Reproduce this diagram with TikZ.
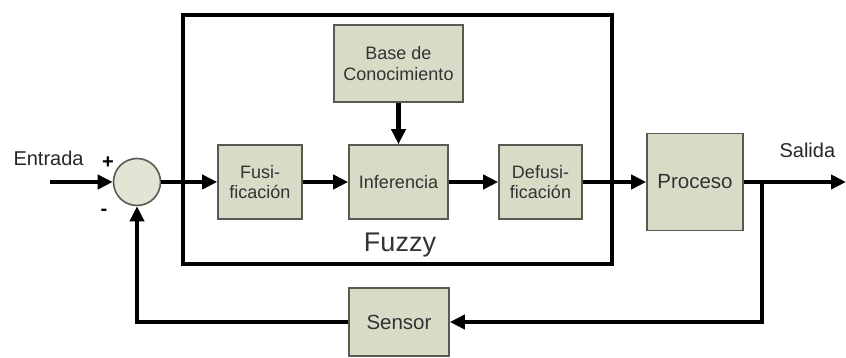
\documentclass[tikz,border=0pt]{standalone}
\usepackage{fontspec}
\setmainfont{Liberation Sans}
\usetikzlibrary{arrows.meta}
\definecolor{blockfill}{HTML}{D9DBC6}
\definecolor{blockline}{HTML}{5A5A55}
\definecolor{sumfill}{HTML}{E4E4D4}
\begin{document}
\begin{tikzpicture}[x=1pt,y=-1pt,
  block/.style={draw=blockline,line width=1.6pt,fill=blockfill,inner sep=0pt,
    align=center,font=\fontsize{18}{20.5}\selectfont,text=black!80},
  bigtext/.style={font=\fontsize{20.5}{22}\selectfont},
  sig/.style={line width=4.3pt,-{Triangle[length=15pt,width=14pt]}},
  lbl/.style={font=\fontsize{20}{22}\selectfont,text=black!85}]
\useasboundingbox (0,0) rectangle (846,358);
% fuzzy controller frame
\draw[line width=4.5pt] (183,15) rectangle (612,264);
\node[font=\fontsize{27}{30}\selectfont,text=black!80] (fz) at (400,245) {Fuzzy};
% blocks
\node[block,minimum width=129pt,minimum height=77pt] (base) at (398.5,63.5) {Base de\\Conocimiento};
\node[block,minimum width=84pt,minimum height=74pt] (fus) at (260,182) {Fusi-\\ficación};
\node[block,minimum width=99pt,minimum height=74pt] (inf) at (398.5,182) {Inferencia};
\node[block,minimum width=83pt,minimum height=74pt] (def) at (540.5,182) {Defusi-\\ficación};
\node[block,bigtext,minimum width=96pt,minimum height=97pt] (proc) at (695,182) {Proceso};
\node[block,bigtext,minimum width=100pt,minimum height=68pt] (sens) at (399,322) {Sensor};
% summing junction
\node[circle,draw=blockline,line width=1.6pt,fill=sumfill,minimum size=47pt,inner sep=0pt] (sum) at (137,182) {};
% labels
\node[lbl,anchor=west] (in) at (10,158) {Entrada};
\node[lbl,anchor=west] (out) at (776,150) {Salida};
\node[font=\fontsize{20}{20}\selectfont\bfseries] (plus) at (108,163) {+};
\node[font=\fontsize{20}{20}\selectfont\bfseries] (minus) at (104,212) {-};
% signal flow
\coordinate (src) at (50,182);
\coordinate (dst) at (846,182);
\coordinate (tap) at (762,182);
\draw[sig] (src) -- (sum.west);
\draw[sig] (sum.east) -- (fus.west);
\draw[sig] (fus.east) -- (inf.west);
\draw[sig] (inf.east) -- (def.west);
\draw[sig] (base.south) -- (inf.north);
\draw[sig] (def.east) -- (proc.west);
\draw[sig] (proc.east) -- (dst);
\draw[sig] (tap) |- (sens.east);
\draw[sig] (sens.west) -| (sum.south);
\end{tikzpicture}
\end{document}
